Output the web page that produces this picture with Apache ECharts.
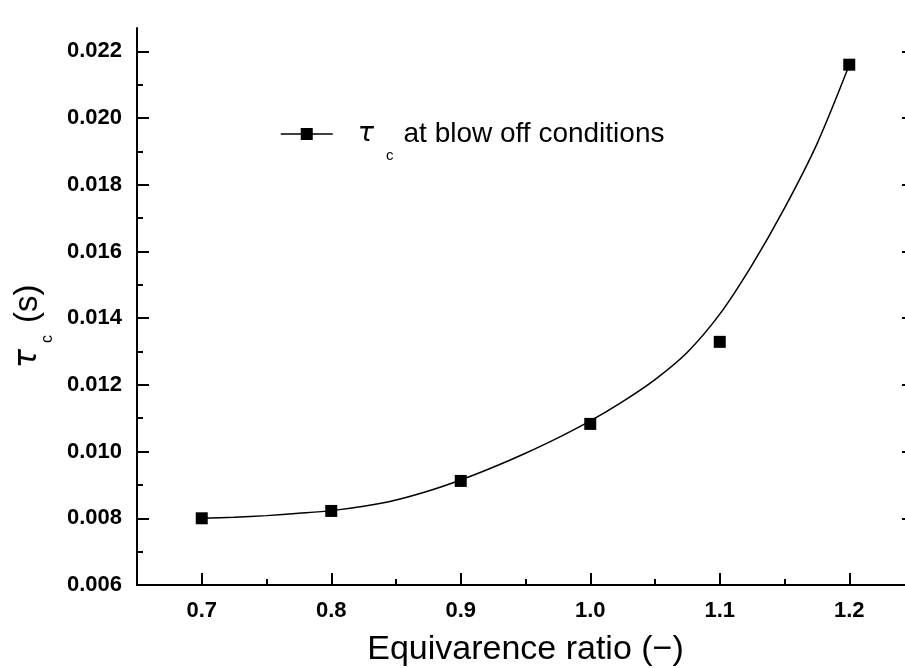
<!DOCTYPE html>
<html>
<head>
<meta charset="utf-8">
<script src="https://cdn.jsdelivr.net/npm/echarts@6/dist/echarts.min.js"></script>
<style>
html,body{margin:0;padding:0;background:#fff;overflow:hidden;}
#c{width:905px;height:668px;}
</style>
</head>
<body>
<div id="c"></div>
<script>
// ---- data ----
const ratio = [0.7, 0.8, 0.9, 1.0, 1.1, 1.2];
const tauC = [0.0080, 0.00822, 0.00912, 0.01083, 0.01329, 0.0216];
const fitRatio = [0.700, 0.725, 0.750, 0.775, 0.800, 0.825, 0.850, 0.875, 0.900, 0.925, 0.950, 0.975, 1.000, 1.025, 1.050, 1.075, 1.100, 1.125, 1.150, 1.175, 1.200];
const fitTau = [0.00800, 0.00803, 0.00808, 0.00815, 0.00823, 0.00836, 0.00855, 0.00882, 0.00915, 0.00953, 0.00995, 0.01041, 0.01092, 0.01150, 0.01216, 0.01298, 0.01412, 0.01560, 0.01730, 0.01922, 0.02159];
const xTicks = [0.7, 0.8, 0.9, 1.0, 1.1, 1.2];
const xMinorTicks = [0.75, 0.85, 0.95, 1.05, 1.15];
const yTicks = [0.006, 0.008, 0.010, 0.012, 0.014, 0.016, 0.018, 0.020, 0.022];
const yMinorTicks = [0.007, 0.009, 0.011, 0.013, 0.015, 0.017, 0.019, 0.021];
const seriesName = 'τc at blow off conditions';
const xTitle = 'Equivarence ratio (−)';

const FONT = 'Liberation Sans';
const chart = echarts.init(document.getElementById('c'), null, {renderer: 'canvas'});

const majorTick = (vals) => ({show: true, inside: true, length: 12, customValues: vals, lineStyle: {color: '#000', width: 2}});
const minorTick = (vals) => ({show: true, inside: true, length: 6, customValues: vals, lineStyle: {color: '#000', width: 2}});

chart.setOption({
  backgroundColor: '#fff',
  animation: false,
  grid: {left: 137, top: 28, width: 777, height: 557, containLabel: false, outerBoundsMode: 'none'},
  legend: {
    data: [seriesName],
    left: 280, top: 120, padding: 0,
    itemWidth: 52, itemHeight: 15,
    lineStyle: {color: '#000', width: 1.5, opacity: 1},
    itemStyle: {color: '#000'},
    formatter: function () { return '{t|τ}{c|c}{r|at blow off conditions}'; },
    textStyle: {
      color: '#000', fontFamily: FONT, fontSize: 28, padding: [0, 0, 0, 20],
      rich: {
        t: {fontFamily: 'DejaVu Sans', fontStyle: 'italic', fontSize: 27, color: '#000', verticalAlign: 'middle'},
        c: {fontFamily: FONT, fontSize: 15, color: '#000', padding: [44, 10, 0, 12], verticalAlign: 'middle'},
        r: {fontFamily: FONT, fontSize: 28, color: '#000', verticalAlign: 'middle'}
      }
    }
  },
  xAxis: [
    {
      type: 'value', min: 0.65, max: 1.25, position: 'bottom',
      axisLine: {show: true, lineStyle: {color: '#000', width: 2}},
      axisTick: majorTick(xTicks),
      axisLabel: {show: true, customValues: xTicks, color: '#000', fontFamily: FONT, fontWeight: 'bold', fontSize: 22, margin: 15,
        formatter: v => v.toFixed(1)},
      splitLine: {show: false},
      name: xTitle, nameLocation: 'middle', nameGap: 48,
      nameTextStyle: {color: '#000', fontFamily: FONT, fontSize: 34}
    },
    {
      type: 'value', min: 0.65, max: 1.25, position: 'bottom',
      axisLine: {show: false},
      axisTick: minorTick(xMinorTicks),
      axisLabel: {show: false},
      splitLine: {show: false}
    }
  ],
  yAxis: [
    {
      type: 'value', min: 0.006, max: 0.0227, position: 'left',
      axisLine: {show: true, lineStyle: {color: '#000', width: 2}},
      axisTick: majorTick(yTicks),
      axisLabel: {show: true, customValues: yTicks, color: '#000', fontFamily: FONT, fontWeight: 'bold', fontSize: 22, margin: 15,
        formatter: v => v.toFixed(3)},
      splitLine: {show: false},
      name: '{t|τ}{c|c}{s|(s)}', nameLocation: 'middle', nameGap: 80,
      nameTextStyle: {
        color: '#000', fontFamily: FONT, padding: [0, 40, 0, 0],
        rich: {
          t: {fontFamily: 'DejaVu Sans', fontStyle: 'italic', fontSize: 32, color: '#000', verticalAlign: 'middle'},
          c: {fontFamily: FONT, fontSize: 16, color: '#000', padding: [40, 12, 0, 6], verticalAlign: 'middle'},
          s: {fontFamily: FONT, fontSize: 33, color: '#000', verticalAlign: 'middle'}
        }
      }
    },
    {
      type: 'value', min: 0.006, max: 0.0227, position: 'left',
      axisLine: {show: false},
      axisTick: minorTick(yMinorTicks),
      axisLabel: {show: false},
      splitLine: {show: false}
    },
    {
      type: 'value', min: 0.006, max: 0.0227, position: 'right',
      axisLine: {show: true, lineStyle: {color: '#000', width: 2}},
      axisTick: majorTick(yTicks),
      axisLabel: {show: false},
      splitLine: {show: false}
    }
  ],
  series: [
    {
      name: 'fit', type: 'line', xAxisIndex: 0, yAxisIndex: 0,
      data: fitRatio.map((x, i) => [x, fitTau[i]]),
      smooth: 0.3, showSymbol: false, silent: true,
      lineStyle: {color: '#000', width: 1.5}
    },
    {
      name: seriesName, type: 'line', xAxisIndex: 0, yAxisIndex: 0,
      data: ratio.map((x, i) => [x, tauC[i]]),
      symbol: 'rect', symbolSize: 12,
      itemStyle: {color: '#000'},
      lineStyle: {color: '#000', width: 1.5, opacity: 0}
    }
  ]
});
</script>
</body>
</html>
